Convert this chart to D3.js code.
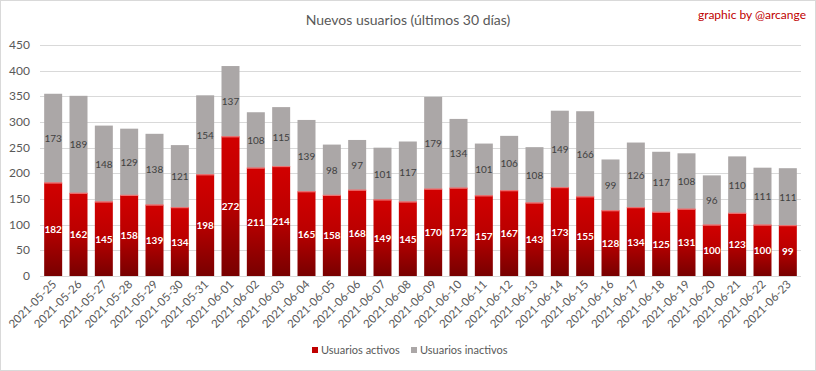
<!DOCTYPE html>
<html>
<head>
<meta charset="utf-8">
<script src="https://cdn.jsdelivr.net/npm/d3@7"></script>
<style>
  body { margin: 0; background: #fff; }
  svg text { font-family: Lato, "Open Sans", sans-serif; }
</style>
</head>
<body>
<script>
var dates = ["2021-05-25","2021-05-26","2021-05-27","2021-05-28","2021-05-29","2021-05-30","2021-05-31",
  "2021-06-01","2021-06-02","2021-06-03","2021-06-04","2021-06-05","2021-06-06","2021-06-07","2021-06-08",
  "2021-06-09","2021-06-10","2021-06-11","2021-06-12","2021-06-13","2021-06-14","2021-06-15","2021-06-16",
  "2021-06-17","2021-06-18","2021-06-19","2021-06-20","2021-06-21","2021-06-22","2021-06-23"];
var activos = [182,162,145,158,139,134,198,272,211,214,165,158,168,149,145,170,172,157,167,143,173,155,128,134,125,131,100,123,100,99];
var inactivos = [173,189,148,129,138,121,154,137,108,115,139,98,97,101,117,179,134,101,106,108,149,166,99,126,117,108,96,110,111,111];
var yTicks = [0,50,100,150,200,250,300,350,400,450];
var seriesNames = ["Usuarios activos", "Usuarios inactivos"];

function main() {
  var W = 816, H = 371;
  var svg = d3.select("body").append("svg").attr("width", W).attr("height", H);

  svg.append("rect").attr("x", 0.5).attr("y", 0.5).attr("width", W - 1).attr("height", H - 1)
    .attr("fill", "#fff").attr("stroke", "#d9d9d9");

  var defs = svg.append("defs");
  var grad = defs.append("linearGradient").attr("id", "redGrad")
    .attr("x1", 0).attr("y1", 0).attr("x2", 0).attr("y2", 1);
  grad.append("stop").attr("offset", "0%").attr("stop-color", "#d20000");
  grad.append("stop").attr("offset", "45%").attr("stop-color", "#bc0000");
  grad.append("stop").attr("offset", "100%").attr("stop-color", "#780000");

  var x = d3.scaleBand().domain(dates).range([40.5, 800.5]).paddingInner(0.29).paddingOuter(0.145);
  var y = d3.scaleLinear().domain([0, 450]).range([276, 45]);

  // gridlines
  svg.append("g").selectAll("line").data(yTicks).enter().append("line")
    .attr("x1", 40).attr("x2", 801)
    .attr("y1", function(d) { return Math.round(y(d)) + 0.5; })
    .attr("y2", function(d) { return Math.round(y(d)) + 0.5; })
    .attr("stroke", "#d9d9d9");

  // y axis labels
  svg.append("g").selectAll("text").data(yTicks).enter().append("text")
    .attr("x", 30).attr("y", function(d) { return y(d) + 4; })
    .attr("text-anchor", "end").attr("font-size", 12).attr("fill", "#595959")
    .text(function(d) { return d; });

  var rows = dates.map(function(d, i) { return { date: d, a: activos[i], b: inactivos[i] }; });

  var g = svg.append("g");
  // inactive (stacked on top)
  g.selectAll("rect.in").data(rows).enter().append("rect").attr("class", "in")
    .attr("x", function(d) { return x(d.date); })
    .attr("width", x.bandwidth())
    .attr("y", function(d) { return y(d.a + d.b); })
    .attr("height", function(d) { return y(d.a) - y(d.a + d.b); })
    .attr("fill", "#aba7a7");
  // active
  g.selectAll("rect.ac").data(rows).enter().append("rect").attr("class", "ac")
    .attr("x", function(d) { return x(d.date); })
    .attr("width", x.bandwidth())
    .attr("y", function(d) { return y(d.a); })
    .attr("height", function(d) { return y(0) - y(d.a); })
    .attr("fill", "url(#redGrad)");
  // highlight line at top of red
  g.selectAll("line.hl").data(rows).enter().append("line").attr("class", "hl")
    .attr("x1", function(d) { return x(d.date); })
    .attr("x2", function(d) { return x(d.date) + x.bandwidth(); })
    .attr("y1", function(d) { return y(d.a) + 0.5; })
    .attr("y2", function(d) { return y(d.a) + 0.5; })
    .attr("stroke", "#f08080").attr("stroke-width", 1);

  // labels
  g.selectAll("text.la").data(rows).enter().append("text").attr("class", "la")
    .attr("x", function(d) { return x(d.date) + x.bandwidth() / 2; })
    .attr("y", function(d) { return (y(d.a) + y(0)) / 2 + 4; })
    .attr("text-anchor", "middle").attr("font-size", 10).attr("font-weight", "bold")
    .attr("fill", "#ffffff")
    .text(function(d) { return d.a; });
  g.selectAll("text.lb").data(rows).enter().append("text").attr("class", "lb")
    .attr("x", function(d) { return x(d.date) + x.bandwidth() / 2; })
    .attr("y", function(d) { return (y(d.a) + y(d.a + d.b)) / 2 + 4; })
    .attr("text-anchor", "middle").attr("font-size", 10)
    .attr("fill", "#404040")
    .text(function(d) { return d.b; });

  // x axis labels
  svg.append("g").selectAll("text").data(dates).enter().append("text")
    .attr("transform", function(d) {
      return "translate(" + (x(d) + x.bandwidth() / 2 + 4) + ",285) rotate(-45)";
    })
    .attr("text-anchor", "end").attr("font-size", 11.5).attr("fill", "#595959")
    .text(function(d) { return d; });

  // title
  svg.append("text").attr("x", 408).attr("y", 25).attr("text-anchor", "middle")
    .attr("font-size", 14).attr("fill", "#595959")
    .text("Nuevos usuarios (últimos 30 días)");
  svg.append("text").attr("x", 806).attr("y", 19).attr("text-anchor", "end")
    .attr("font-size", 12).attr("fill", "#c00000")
    .text("graphic by @arcange");

  // legend
  var legend = svg.append("g");
  var lx = [312, 411];
  var lc = ["#c00000", "#aba7a7"];
  seriesNames.forEach(function(n, i) {
    legend.append("rect").attr("x", lx[i]).attr("y", 347).attr("width", 6).attr("height", 6).attr("fill", lc[i]);
    legend.append("text").attr("x", lx[i] + 9).attr("y", 354).attr("font-size", 11).attr("fill", "#595959").text(n);
  });
}
main();
</script>
</body>
</html>
